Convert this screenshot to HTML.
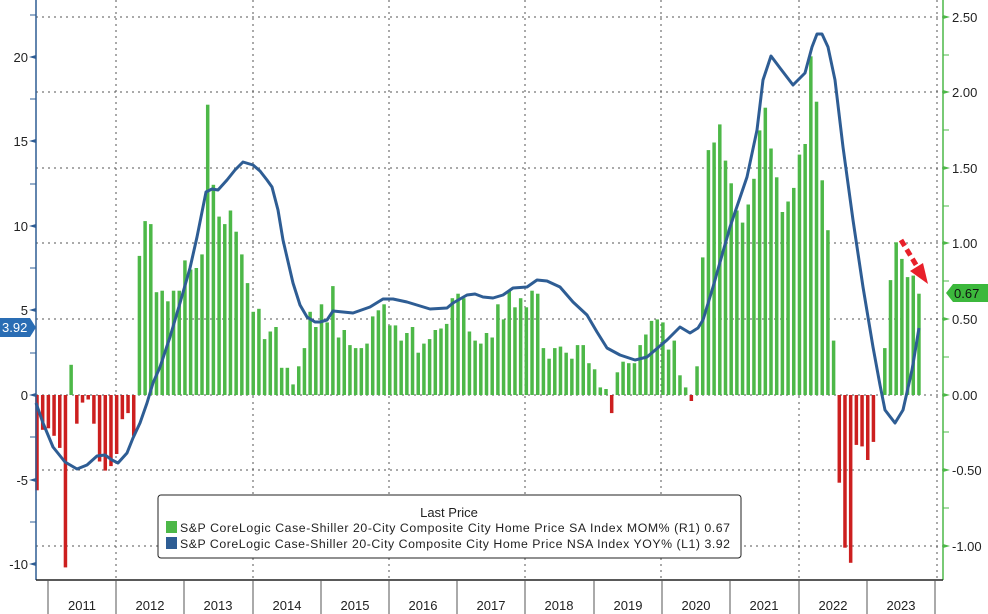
<!DOCTYPE html>
<html><head><meta charset="utf-8"><style>
html,body{margin:0;padding:0;background:#fff;}
svg{display:block;font-family:"Liberation Sans","DejaVu Sans",sans-serif;}
</style></head><body>
<svg id="c" width="988" height="614" viewBox="0 0 988 614" xmlns="http://www.w3.org/2000/svg">
<rect width="988" height="614" fill="#fff"/>
<g stroke="#555" stroke-width="1" stroke-dasharray="2,4" fill="none">
<line x1="36" y1="17" x2="943" y2="17"/><line x1="36" y1="92" x2="943" y2="92"/>
<line x1="36" y1="168" x2="943" y2="168"/><line x1="36" y1="243" x2="943" y2="243"/>
<line x1="36" y1="319" x2="943" y2="319"/><line x1="36" y1="395" x2="943" y2="395"/>
<line x1="36" y1="470" x2="943" y2="470"/><line x1="36" y1="546" x2="943" y2="546"/>
<line x1="116" y1="0" x2="116" y2="580"/><line x1="253" y1="0" x2="253" y2="580"/>
<line x1="389" y1="0" x2="389" y2="580"/><line x1="525" y1="0" x2="525" y2="580"/>
<line x1="661" y1="0" x2="661" y2="580"/><line x1="799" y1="0" x2="799" y2="580"/>
<line x1="937" y1="0" x2="937" y2="580"/>
</g>
<g id="bars"></g>
<polyline fill="none" stroke="#2e5d94" stroke-width="3" stroke-linejoin="round" points="36,403 43,423 53,447 65,462 77,469 87,465 97,456 105,455 112,460 118,463 127,453 133,438 140,423 147,403 153,383 160,367 170,337 180,303 190,268 197,237 206,192 212,189 218,190 227,180 235,170 243,162 253,165 260,171 267,180 272,187 278,210 283,240 293,283 300,305 307,317 315,322 320,322 327,320 333,311 353,313 370,307 383,299 393,299 407,302 430,309 447,308 453,303 467,295 475,294 483,297 493,298 503,295 513,288 527,287 537,280 547,281 560,287 573,302 587,315 597,332 607,348 620,355 635,360 647,357 667,340 680,327 690,333 698,328 703,320 713,287 730,227 747,177 757,130 763,80 771,56 780,68 793,85 805,73 812,47 817,34 822,34 828,47 835,80 843,147 853,220 863,287 873,347 880,385 885,410 895,423 903,410 912,370 919,328"/>
<line x1="36" y1="0" x2="36" y2="580" stroke="#2e5d94" stroke-width="1.5"/>
<line x1="943" y1="0" x2="943" y2="580" stroke="#4db848" stroke-width="1.5"/>
<line x1="36" y1="580" x2="943" y2="580" stroke="#222" stroke-width="1.5"/>
<g stroke="#2e5d94" stroke-width="1">
<line x1="30" y1="15" x2="36" y2="15"/><line x1="30" y1="99" x2="36" y2="99"/><line x1="30" y1="184" x2="36" y2="184"/><line x1="30" y1="268" x2="36" y2="268"/><line x1="30" y1="353" x2="36" y2="353"/><line x1="30" y1="437" x2="36" y2="437"/><line x1="30" y1="522" x2="36" y2="522"/>
</g>
<g fill="#2e5d94">
<polygon points="29,57 36,55 36,59"/><polygon points="29,141 36,139 36,143"/><polygon points="29,226 36,224 36,228"/><polygon points="29,310 36,308 36,312"/><polygon points="29,395 36,393 36,397"/><polygon points="29,480 36,478 36,482"/><polygon points="29,564 36,562 36,566"/>
</g>
<g font-size="13" fill="#222" text-anchor="end">
<text x="28" y="62">20</text><text x="28" y="146">15</text><text x="28" y="231">10</text><text x="28" y="315">5</text><text x="28" y="400">0</text><text x="28" y="485">-5</text><text x="28" y="569">-10</text>
</g>
<g stroke="#4db848" stroke-width="1">
<line x1="943" y1="55" x2="949" y2="55"/><line x1="943" y1="130" x2="949" y2="130"/><line x1="943" y1="206" x2="949" y2="206"/><line x1="943" y1="281" x2="949" y2="281"/><line x1="943" y1="357" x2="949" y2="357"/><line x1="943" y1="432" x2="949" y2="432"/><line x1="943" y1="508" x2="949" y2="508"/>
</g>
<g fill="#4db848">
<polygon points="950,17 943,15 943,19"/><polygon points="950,92 943,90 943,94"/><polygon points="950,168 943,166 943,170"/><polygon points="950,243 943,241 943,245"/><polygon points="950,319 943,317 943,321"/><polygon points="950,395 943,393 943,397"/><polygon points="950,470 943,468 943,472"/><polygon points="950,546 943,544 943,548"/>
</g>
<g font-size="13" fill="#222">
<text x="952" y="22">2.50</text><text x="952" y="97">2.00</text><text x="952" y="173">1.50</text><text x="952" y="248">1.00</text><text x="952" y="324">0.50</text><text x="952" y="400">0.00</text><text x="952" y="475">-0.50</text><text x="952" y="551">-1.00</text>
</g>
<polygon points="946,293 953,284 988,284 988,302 953,302" fill="#3cb83c"/>
<text x="954" y="298" font-size="13" fill="#111">0.67</text>
<polygon points="0,318 30,318 36,327.5 30,337 0,337" fill="#2a6db4"/>
<text x="2" y="332" font-size="13" fill="#fff">3.92</text>
<g stroke="#555" stroke-width="1">
<line x1="48" y1="580" x2="48" y2="614"/><line x1="116" y1="580" x2="116" y2="614"/><line x1="184" y1="580" x2="184" y2="614"/><line x1="253" y1="580" x2="253" y2="614"/><line x1="321" y1="580" x2="321" y2="614"/><line x1="389" y1="580" x2="389" y2="614"/><line x1="457" y1="580" x2="457" y2="614"/><line x1="525" y1="580" x2="525" y2="614"/><line x1="594" y1="580" x2="594" y2="614"/><line x1="662" y1="580" x2="662" y2="614"/><line x1="730" y1="580" x2="730" y2="614"/><line x1="799" y1="580" x2="799" y2="614"/><line x1="867" y1="580" x2="867" y2="614"/><line x1="935" y1="580" x2="935" y2="614"/>
</g>
<g font-size="13" fill="#222" text-anchor="middle">
<text x="82" y="610">2011</text><text x="150" y="610">2012</text><text x="218" y="610">2013</text><text x="287" y="610">2014</text><text x="355" y="610">2015</text><text x="423" y="610">2016</text><text x="491" y="610">2017</text><text x="559" y="610">2018</text><text x="628" y="610">2019</text><text x="696" y="610">2020</text><text x="764" y="610">2021</text><text x="833" y="610">2022</text><text x="901" y="610">2023</text>
</g>
<line x1="901" y1="240" x2="918" y2="268" stroke="#e8202a" stroke-width="5" stroke-dasharray="7,4"/>
<polygon points="928,284 910,271 923,263" fill="#e8202a"/>
<rect x="158" y="495" width="583" height="63" rx="3" fill="#fff" stroke="#222" stroke-width="1"/>
<text x="449" y="517" font-size="13" fill="#222" text-anchor="middle">Last Price</text>
<rect x="166" y="521" width="11" height="12" fill="#4db848"/>
<rect x="166" y="537" width="11" height="12" fill="#2e5d94"/>
<g font-size="12.3" fill="#222">
<text x="180" y="532" textLength="550" lengthAdjust="spacing">S&amp;P CoreLogic Case-Shiller 20-City Composite City Home Price SA Index MOM%  (R1)  0.67</text>
<text x="180" y="548" textLength="550" lengthAdjust="spacing">S&amp;P CoreLogic Case-Shiller 20-City Composite City Home Price NSA Index YOY%  (L1)  3.92</text>
</g>
</svg>
<script>
var v=[-0.63,-0.23,-0.22,-0.27,-0.35,-1.14,0.2,-0.19,-0.05,-0.03,-0.19,-0.44,-0.5,-0.47,-0.39,-0.16,-0.12,-0.27,
0.92,1.15,1.13,0.68,0.69,0.62,0.69,0.69,0.89,0.83,0.84,0.93,1.92,1.39,1.18,1.13,1.22,1.08,0.93,0.74,0.55,0.57,0.37,0.42,0.45,0.18,0.18,0.07,0.19,0.31,0.55,0.45,
0.60,0.48,0.72,0.38,0.43,0.33,0.31,0.31,0.34,0.52,0.56,0.60,0.46,0.46,0.36,0.41,0.45,0.28,0.34,0.37,0.43,0.44,0.47,0.64,0.67,0.64,0.42,0.36,0.34,0.41,0.38,0.60,0.50,0.69,0.58,0.64,0.58,0.69,0.67,0.31,0.24,0.31,0.32,0.28,0.24,0.33,0.33,0.21,0.17,0.05,0.04,-0.12,0.15,0.22,0.21,0.21,0.33,0.40,0.49,0.50,0.48,0.30,0.36,0.13,0.05,-0.04,0.19,
0.91,1.62,1.67,1.79,1.55,1.40,1.22,1.14,1.26,1.43,1.75,1.90,1.63,1.44,1.21,1.28,1.37,1.59,1.66,2.24,1.94,1.42,1.09,0.36,
-0.58,-1.01,-1.11,-0.33,-0.34,-0.43,-0.31,0,0.31,0.76,1.01,0.90,0.78,0.79,0.67];
var s='';for(var k=0;k<v.length;k++){var x=37+k*5.69-1.75,h=v[k]*151.2;if(h>=0){s+='<rect x="'+x.toFixed(2)+'" y="'+(395-h).toFixed(1)+'" width="3.5" height="'+h.toFixed(1)+'" fill="#4db848"/>';}else{s+='<rect x="'+x.toFixed(2)+'" y="395" width="3.5" height="'+(-h).toFixed(1)+'" fill="#cc1f1f"/>';}}
document.getElementById('bars').innerHTML=s;
</script>
</body></html>
